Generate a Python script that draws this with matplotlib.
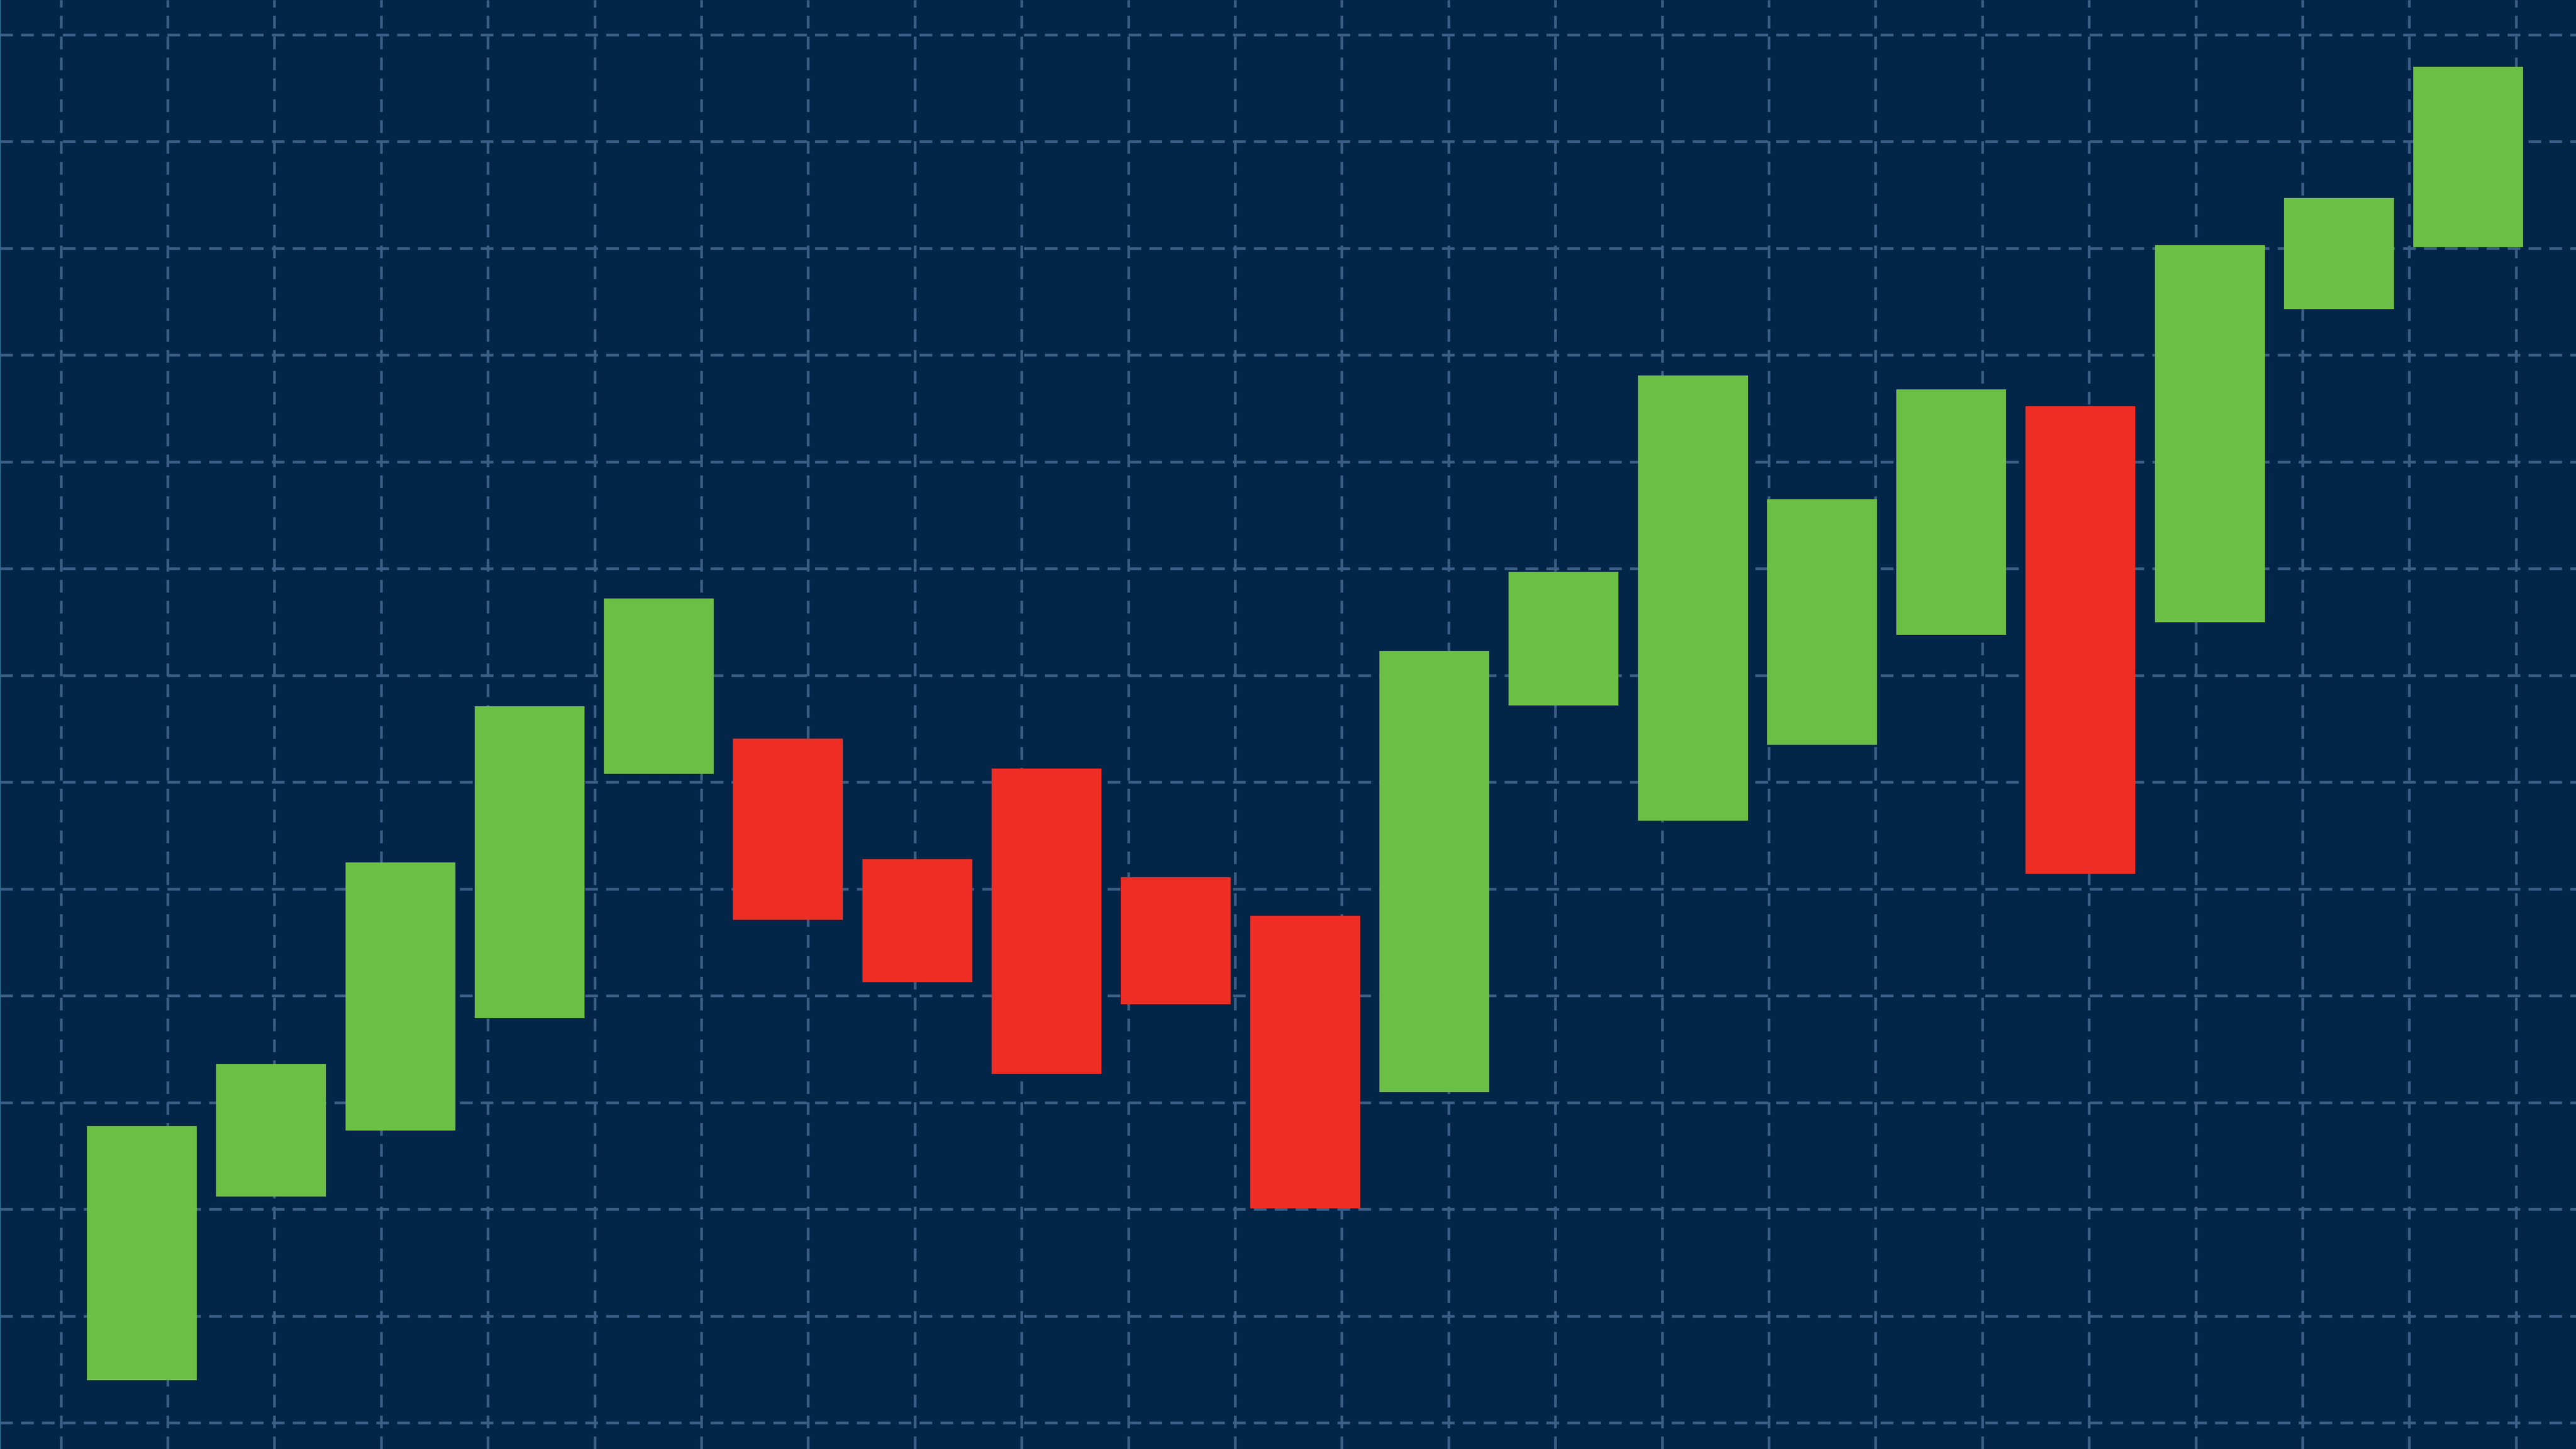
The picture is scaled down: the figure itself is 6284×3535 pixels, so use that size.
#!/usr/bin/env python3
"""Candle bodies on a dark navy grid (no wicks, no labels)."""

import numpy as np
import matplotlib
matplotlib.use("Agg")
import matplotlib.pyplot as plt

# open / close of each candle body (grid step = 10)
opens = [4.0, 21.2, 27.4, 37.9, 60.8, 64.1, 52.8, 61.3, 51.1, 47.5,
         31.0, 67.2, 56.4, 63.5, 73.8, 95.2, 75.0, 104.3, 110.1]
closes = [27.8, 33.6, 52.5, 67.1, 77.2, 47.1, 41.3, 32.7, 39.2, 20.1,
          72.3, 79.7, 98.1, 86.5, 96.8, 51.4, 110.3, 114.7, 127.0]

BG = "#032548"
UP = "#6cbf45"
DOWN = "#ee2e24"
GRID = "#3a5e85"

W, H, DPI = 6284, 3535, 100

plt.rcParams["lines.scale_dashes"] = False

fig = plt.figure(figsize=(W / DPI, H / DPI), dpi=DPI, facecolor=BG)
ax = fig.add_axes([0, 0, 1, 1])
ax.set_facecolor(BG)

x = np.arange(len(opens))
o = np.array(opens)
c = np.array(closes)
colors = [UP if cc >= oo else DOWN for oo, cc in zip(o, c)]

ax.bar(x, c - o, bottom=o, width=0.85, color=colors, linewidth=0, zorder=3)

# limits tuned so the candles sit where they do in the reference
ax.set_xlim(-1.0974, 18.833)
ax.set_ylim(-2.44, 133.26)

# square grid: horizontal every 10 units, vertical at the same pixel pitch
ax.set_yticks(np.arange(0, 140, 10))
ax.set_xticks(np.arange(-0.6264, 19, 0.8259))
ax.grid(True, color=GRID, linewidth=4.7, linestyle=(0, (22.3, 14.4)), zorder=0)
ax.set_axisbelow(True)

ax.tick_params(length=0, labelbottom=False, labelleft=False)
for sp in ax.spines.values():
    sp.set_visible(False)

# thin lighter edge on the far left
ax.axvline(-1.0974, color="#2d6a8c", linewidth=2.5, zorder=1)

fig.savefig("out.png", dpi=DPI, facecolor=BG)
